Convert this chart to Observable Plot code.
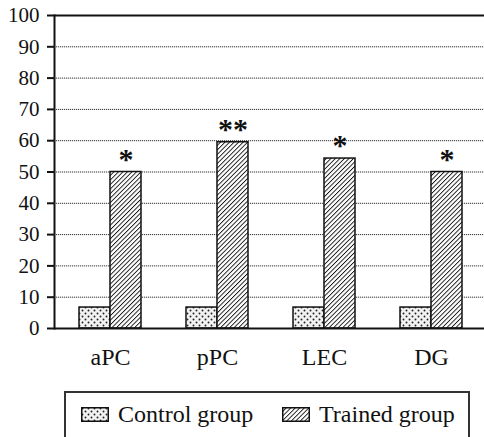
<!DOCTYPE html>
<html>
<head>
<meta charset="utf-8">
<script src="https://cdn.jsdelivr.net/npm/d3@7"></script>
<script src="https://cdn.jsdelivr.net/npm/@observablehq/plot@0.6"></script>
<style>
  html, body { margin: 0; padding: 0; background: #fff; }
  #chart { position: relative; width: 484px; height: 437px; overflow: hidden; font-family: "Liberation Serif", "Times New Roman", "DejaVu Serif", serif; }
  #legend { position: absolute; left: 64px; top: 391px; width: 406px; height: 60px;
            border: 2px solid #333; box-sizing: border-box; font-size: 24px; color: #111; }
  .item { position: absolute; top: 8px; display: flex; align-items: center; white-space: nowrap; }
  .item svg { margin-right: 9px; }
</style>
</head>
<body>
<div id="chart"></div>
<script>
const categories = ["aPC", "pPC", "LEC", "DG"];
const groups = ["Control group", "Trained group"];
const controlValues = [6.7, 6.7, 6.7, 6.7];
const trainedValues = [50, 59.5, 54.3, 50];
const significance = ["*", "**", "*", "*"];
const yTicks = [0, 10, 20, 30, 40, 50, 60, 70, 80, 90, 100];
const gridTicks = [10, 20, 30, 40, 50, 60, 70, 80, 90];

const controlRows = categories.map((c, i) => ({category: c, group: groups[0], value: controlValues[i]}));
const trainedRows = categories.map((c, i) => ({category: c, group: groups[1], value: trainedValues[i], label: significance[i]}));

const patternDefs = `
  <pattern id="dots" patternUnits="userSpaceOnUse" width="6" height="6">
    <rect width="6" height="6" fill="#f2f2f2"/>
    <circle cx="1.5" cy="1.5" r="0.95" fill="#222"/>
    <circle cx="4.5" cy="4.5" r="0.95" fill="#222"/>
  </pattern>
  <pattern id="hatch" patternUnits="userSpaceOnUse" width="3.2" height="3.2" patternTransform="rotate(45)">
    <rect width="3.2" height="3.2" fill="#fff"/>
    <line x1="0" y1="0" x2="0" y2="3.2" stroke="#111" stroke-width="1.8"/>
  </pattern>`;

const W = 484, H = 385, mL = 54, mR = 0;
const xOpts = {type: "band", domain: categories, range: [mL, W - mR], paddingInner: 0.424, paddingOuter: 0.21, align: 0.53};
const bw = Plot.scale({x: xOpts}).bandwidth;
const serif = "'Liberation Serif', 'Times New Roman', 'DejaVu Serif', serif";

const svg = Plot.plot({
  width: W,
  height: H,
  marginLeft: mL,
  marginRight: mR,
  marginTop: 15,
  marginBottom: 57,
  style: {fontFamily: serif, fontSize: "21px", background: "white", color: "#111", overflow: "visible"},
  y: {domain: [0, 100], ticks: yTicks, tickSize: 7, tickPadding: 8, label: null, line: true},
  x: {...xOpts, label: null, tickSize: 0, tickPadding: 19, axis: "bottom"},
  color: {domain: groups, range: ["url(#dots)", "url(#hatch)"]},
  marks: [
    Plot.ruleY(gridTicks, {stroke: "#333", strokeWidth: 1, strokeDasharray: "1.2,0.8"}),
    Plot.ruleY([100], {stroke: "#111", strokeWidth: 2}),
    Plot.barY(controlRows, {x: "category", y: "value", fill: "group", insetRight: bw / 2, stroke: "#111", strokeWidth: 1.5}),
    Plot.barY(trainedRows, {x: "category", y: "value", fill: "group", insetLeft: bw / 2, stroke: "#111", strokeWidth: 1.5}),
    Plot.text(trainedRows, {x: "category", y: "value", text: "label", dx: bw / 4, dy: -13, fontSize: 30, fontWeight: "bold", fill: "#111"}),
    Plot.ruleY([0], {stroke: "#111", strokeWidth: 2})
  ]
});
const defs = document.createElementNS("http://www.w3.org/2000/svg", "defs");
defs.innerHTML = patternDefs;
svg.insertBefore(defs, svg.firstChild);
d3.select(svg).selectAll("[aria-label='y-axis tick'], [aria-label='frame']").attr("stroke-width", 2);
d3.select(svg).selectAll("[aria-label='x-axis tick label']").style("font-size", "24px");

const chart = document.getElementById("chart");
chart.appendChild(svg);

const legend = document.createElement("div");
legend.id = "legend";
const swatch = id => `<svg width="28" height="15"><defs>${patternDefs}</defs><rect x="0.75" y="0.75" width="26.5" height="13.5" fill="url(#${id})" stroke="#111" stroke-width="1.5"/></svg>`;
legend.innerHTML = `
  <div class="item" style="left:15px">${swatch("dots")}<span>${groups[0]}</span></div>
  <div class="item" style="left:216px">${swatch("hatch")}<span>${groups[1]}</span></div>`;
chart.appendChild(legend);
</script>
</body>
</html>
